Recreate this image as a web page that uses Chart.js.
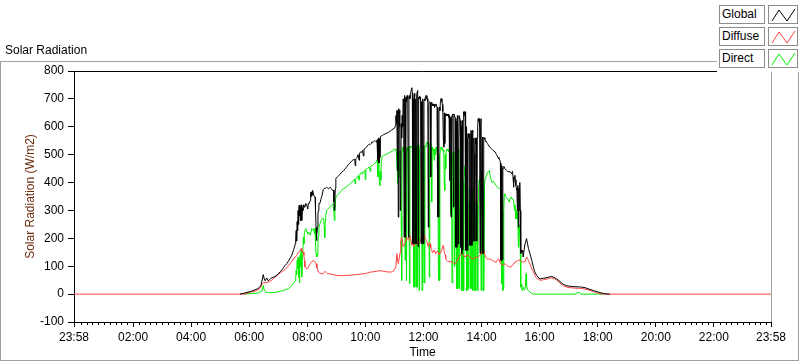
<!DOCTYPE html>
<html><head><meta charset="utf-8">
<script src="https://cdn.jsdelivr.net/npm/chart.js@4.4.0/dist/chart.umd.min.js"></script>
<style>
html,body{margin:0;padding:0;background:#fff;}
#wrap{position:relative;width:800px;height:361px;overflow:hidden;font-family:"Liberation Sans",Arial,sans-serif;}
#frame{position:absolute;left:0;top:61px;width:797px;height:298px;border:1px solid #a0a0a0;}
canvas{position:absolute;left:0;top:0;}
#ttl{position:absolute;left:5px;top:43px;font-size:12px;color:#000;white-space:nowrap;}
#legend{position:absolute;left:717px;top:3px;width:83px;height:69px;background:#fff;}
.row{position:absolute;left:2px;width:80px;height:20px;}
.lbl{position:absolute;left:0;top:0;width:46px;height:19px;border:1px solid #8c8c8c;box-sizing:border-box;font-size:12px;line-height:17px;padding-left:2px;color:#000;background:#fff;}
.ico{position:absolute;left:49px;top:0;width:30px;height:19px;border:1px solid #8c8c8c;box-sizing:border-box;background:#fff;}
.ico svg{position:absolute;left:0;top:0;}
</style></head>
<body><div id="wrap">
<div id="frame"></div>
<canvas id="c" width="800" height="361"></canvas>
<div id="ttl">Solar Radiation</div>
<div id="legend"></div>
</div>
<script>
// time in minutes after midnight (-2 = 23:58 of previous day), values in W/m2
const xTickMinutes = [-2,120,240,360,480,600,720,840,960,1080,1200,1320,1438];
const yTicks = [-100,0,100,200,300,400,500,600,700,800];
const seriesNames = ['Global','Diffuse','Direct'];
const seriesColors = ['#000000','#ff4040','#00ee00'];

const globalData = [[341,0],[351,4],[362,9],[370,14],[378,20],[384,30],[386,45],[389,70],[391,55],[393,48],[396,58],[399,48],[402,52],[405,57],[409,60],[413,63],[417,68],[420,73],[424,80],[428,88],[431,95],[434,103],[438,110],[441,118],[445,130],[448,140],[450,150],[452,160],[454,172],[455,180],[456,200],[457,228],[458,190],[459,260],[460,228],[461,300],[462,250],[463,318],[464,280],[465,312],[466,264],[467,320],[468,300],[469,264],[470,310],[471,300],[472,320],[473,312],[475,312],[477,325],[479,318],[481,305],[482,325],[484,325],[486,335],[487,365],[488,350],[489,367],[490,355],[491,372],[492,365],[494,350],[496,348],[497,300],[498,240],[499,192],[500,220],[501,240],[502,290],[503,300],[504,325],[506,325],[508,340],[510,350],[513,375],[515,379],[517,379],[520,383],[522,380],[524,378],[527,383],[530,378],[532,372],[534,372],[535,330],[536,300],[537,340],[538,380],[539,415],[542,420],[545,425],[548,430],[551,437],[555,443],[558,449],[561,455],[565,465],[568,470],[572,478],[575,482],[578,483],[579,460],[580,485],[583,490],[585,500],[587,480],[588,505],[590,510],[592,508],[594,515],[596,495],[597,520],[599,521],[601,525],[603,530],[606,535],[608,538],[610,536],[612,540],[613,545],[616,545],[619,550],[621,548],[623,545],[624,552],[625,555],[626,479],[627,560],[628,470],[629,555],[630,490],[631,565],[633,567],[635,569],[638,572],[641,575],[645,578],[648,580],[651,584],[654,588],[657,592],[660,596],
[661,598],[662,605],[663,640],[664,610],[665,658],[666,443],[667,660],[668,276],[669,665],[670,600],[671,660],[672,300],[673,320],[674,611],[675,560],[676,640],[677,600],[678,700],[679,690],[680,204],[681,712],[682,700],[683,204],[684,706],[685,690],[686,712],[687,700],[688,706],[689,204],[690,706],[691,712],[692,700],[693,720],[694,725],[695,735],[696,740],[697,720],[698,181],[699,700],[700,181],[701,710],[702,720],[703,181],[704,700],[705,181],[706,715],[707,725],[708,730],[709,170],[710,706],[711,700],[712,710],[713,706],[714,700],[715,181],[716,690],[717,181],[718,700],[719,694],[720,181],[721,690],[722,700],[723,694],[724,705],[725,712],[726,700],[727,712],[728,700],[729,690],[730,240],[731,680],[732,688],[733,690],[734,685],[735,420],[736,680],[737,688],[738,680],[739,676],[740,682],[741,676],[742,680],[743,670],[744,676],[745,680],[746,682],[747,682],[748,670],[749,276],[750,660],[751,276],[752,658],[753,670],[754,658],[755,690],[756,701],[757,690],[758,701],[759,680],[760,655],[761,560],[762,527],[763,650],[764,540],[765,646],[766,640],[767,646],[768,640],[769,646],[770,640],[771,646],[772,634],[773,640],[774,408],[775,634],[776,630],[777,276],[778,634],[779,640],[780,646],[781,640],[782,312],[783,646],[784,640],[785,640],[786,630],[787,168],[788,620],[789,168],[790,640],[791,630],[792,180],[793,551],[794,640],[795,640],[796,622],[797,168],[798,600],[799,145],[800,622],[801,160],[802,622],[803,654],[804,640],[805,654],[806,654],[807,157],[808,600],[809,157],[810,560],[811,157],[812,575],[813,575],[814,560],[815,175],[816,575],[817,175],[818,587],[819,580],[820,175],[821,587],[822,580],[823,190],[824,560],[825,500],[826,190],[827,560],[828,540],[829,560],[830,190],[831,560],[832,600],[833,629],[834,620],[835,629],[836,600],[837,146],[838,600],[839,629],[840,629],[841,146],[842,563],[843,146],[844,560],[845,563],[846,560],[847,555],[848,550],[849,547],[850,545],[852,540],[854,535],[857,527],[860,522],[864,515],[868,510],[871,500],[874,490],[876,485],[878,480],[879,470],[880,121],[881,460],[882,121],[883,125],[884,450],[885,450],[886,458],[888,450],[891,445],[894,440],[897,438],[899,440],[902,432],[904,440],[905,420],[906,383],[907,400],[908,420],[909,426],[910,410],[911,390],[912,380],[913,372],[914,300],[915,390],[916,240],[917,380],[918,300],[919,400],[920,300],[921,146],[922,157],[923,150],[924,157],[925,150],[926,133],[928,160],[930,181],[933,199],[935,180],[937,163],[940,145],[944,120],[947,97],[950,80],[954,67],[958,58],[961,55],[968,57],[975,59],[980,62],[985,63],[990,60],[995,55],[1002,45],[1009,35],[1016,30],[1023,28],[1030,27],[1040,26],[1047,25],[1054,23],[1062,18],[1071,13],[1080,8],[1088,4],[1095,1],[1105,0]];

const diffuseData = [[-2,0],[351,0],[356,3],[362,7],[370,10],[378,15],[384,25],[386,35],[389,40],[393,41],[399,43],[405,48],[409,54],[413,60],[418,67],[424,76],[429,82],[434,88],[438,95],[441,102],[445,110],[448,118],[452,127],[455,133],[458,139],[461,148],[463,152],[465,157],[467,163],[469,155],[470,150],[472,151],[473,140],[474,120],[475,97],[477,93],[479,91],[481,92],[483,100],[486,109],[489,115],[492,121],[494,118],[496,115],[498,109],[500,95],[503,79],[506,75],[509,73],[513,73],[515,78],[517,82],[519,78],[522,73],[527,73],[533,70],[541,67],[550,66],[561,67],[570,68],[580,70],[588,71],[596,73],[603,75],[610,79],[616,80],[623,82],[630,84],[637,82],[644,80],[651,79],[656,80],[661,91],[663,100],[665,145],[666,130],[668,109],[670,130],[672,150],[673,190],[675,204],[677,185],[678,170],[680,175],[682,182],[684,195],[685,204],[687,198],[689,195],[690,205],[692,210],[694,195],[696,175],[698,180],[700,170],[703,182],[705,195],[706,190],[708,180],[709,175],[711,185],[713,188],[715,200],[717,200],[718,210],[720,222],[722,205],[723,200],[725,195],[727,188],[729,175],[730,170],[732,185],[734,180],[735,165],[737,160],[738,150],[740,150],[742,158],[744,151],[745,145],[747,150],[749,155],[751,148],[752,142],[754,145],[756,152],[758,160],[760,172],[761,175],[763,150],[765,140],[766,128],[768,121],[770,118],[771,118],[773,116],[775,115],[777,118],[778,115],[780,113],[782,112],[784,110],[785,109],[787,112],[789,115],[790,122],[792,127],[793,132],[795,135],[797,142],[799,151],[800,145],[802,140],[804,136],[806,133],[808,138],[809,136],[811,140],[813,139],[815,135],[816,133],[818,130],[820,127],[822,126],[823,127],[825,128],[826,130],[828,134],[830,133],[832,131],[833,133],[835,136],[837,140],[839,145],[840,150],[842,155],[844,157],[845,150],[847,140],[849,132],[851,127],[853,125],[854,125],[856,126],[857,127],[859,124],[861,122],[863,121],[864,120],[866,117],[868,115],[870,116],[871,118],[873,123],[875,127],[877,120],[878,115],[880,108],[882,103],[884,104],[885,106],[887,108],[888,109],[890,106],[892,103],[894,101],[895,100],[897,98],[899,97],[901,98],[902,100],[904,104],[906,108],[908,112],[909,115],[911,117],[913,118],[915,120],[916,121],[918,122],[919,121],[921,119],[923,118],[925,116],[926,115],[928,116],[930,118],[932,128],[933,133],[935,128],[937,121],[940,108],[942,98],[944,89],[947,80],[950,68],[952,61],[954,57],[958,52],[961,50],[965,50],[968,52],[972,53],[975,54],[980,57],[985,58],[990,55],[995,50],[1002,40],[1009,30],[1016,25],[1023,23],[1030,22],[1037,21],[1040,21],[1047,20],[1054,18],[1062,14],[1071,9],[1080,4],[1088,1],[1095,0],[1105,0],[1438,0]];

const directData = [[351,0],[362,2],[378,4],[386,10],[389,31],[391,15],[394,7],[400,5],[405,6],[413,6],[420,8],[424,10],[430,13],[436,16],[441,20],[445,25],[448,31],[451,38],[453,42],[455,48],[456,60],[457,85],[458,70],[459,120],[460,90],[461,133],[462,60],[463,125],[464,40],[465,140],[466,100],[467,157],[468,150],[469,61],[470,140],[471,160],[472,204],[473,180],[474,222],[475,228],[477,235],[479,225],[481,215],[483,222],[484,215],[486,211],[488,225],[489,235],[491,230],[493,235],[495,216],[496,235],[497,181],[498,145],[499,134],[500,133],[501,140],[502,181],[503,210],[504,240],[506,252],[509,265],[512,273],[514,270],[515,240],[516,202],[517,260],[518,280],[520,300],[523,306],[527,312],[530,318],[533,324],[535,290],[536,264],[537,300],[539,348],[542,355],[545,360],[548,365],[551,372],[555,378],[558,382],[561,385],[565,390],[568,395],[572,402],[575,408],[578,412],[579,395],[580,414],[583,418],[585,425],[587,408],[589,432],[592,437],[594,430],[596,440],[598,443],[599,445],[600,410],[601,447],[602,449],[605,452],[608,455],[610,440],[611,458],[613,461],[615,462],[617,465],[620,470],[622,473],[623,479],[625,475],[626,420],[627,480],[628,470],[629,400],[630,390],[631,440],[632,408],[633,480],[634,490],[637,497],[641,500],[646,503],[651,509],[656,512],[660,521],
[661,521],[662,520],[663,515],[664,510],[667,396],[668,509],[669,515],[670,420],[671,509],[672,515],[673,505],[674,276],[675,49],[676,510],[677,527],[678,515],[679,520],[680,527],[681,515],[682,121],[683,527],[684,520],[685,49],[686,515],[687,527],[688,520],[689,527],[690,530],[691,38],[692,527],[693,530],[694,525],[695,530],[696,527],[697,530],[698,533],[699,530],[700,25],[701,527],[702,25],[703,530],[704,533],[705,25],[706,530],[707,25],[708,533],[709,536],[710,539],[711,13],[712,527],[713,530],[714,533],[715,527],[716,530],[717,13],[718,527],[719,40],[720,530],[721,533],[722,40],[723,527],[724,530],[725,527],[726,540],[727,545],[728,540],[729,545],[730,533],[731,540],[732,60],[733,533],[734,540],[735,530],[736,527],[737,330],[738,515],[739,527],[740,520],[741,515],[742,480],[743,520],[744,515],[745,500],[746,527],[747,520],[748,515],[749,520],[750,510],[751,49],[752,500],[753,49],[754,500],[755,515],[756,527],[757,520],[758,527],[759,515],[760,520],[761,515],[762,510],[763,400],[764,372],[765,500],[766,450],[767,515],[768,520],[769,515],[770,520],[771,515],[772,510],[773,520],[774,515],[775,510],[776,288],[777,500],[778,490],[779,40],[780,500],[781,505],[782,510],[783,500],[784,100],[785,500],[786,510],[787,515],[788,510],[789,20],[790,480],[791,20],[792,520],[793,500],[794,20],[795,300],[796,500],[797,440],[798,430],[799,13],[800,400],[801,13],[802,400],[803,13],[804,420],[805,460],[806,430],[807,450],[808,440],[809,13],[810,380],[811,13],[812,300],[813,20],[814,330],[815,330],[816,300],[817,20],[818,330],[819,20],[820,380],[821,360],[822,13],[823,380],[824,360],[825,13],[826,300],[827,250],[828,13],[829,330],[830,300],[831,320],[832,13],[833,330],[834,380],[835,408],[836,400],[837,420],[838,380],[839,13],[840,400],[841,431],[842,432],[843,13],[844,380],[845,13],[846,400],[847,410],[848,415],[849,420],[850,425],[851,430],[852,435],[854,440],[856,443],[858,420],[860,410],[862,400],[864,405],[866,400],[868,395],[870,390],[873,383],[876,380],[878,375],[880,372],[881,340],[882,38],[883,300],[884,13],[885,20],[886,300],[887,354],[888,360],[890,350],[892,345],[894,340],[896,335],[897,330],[899,345],[901,348],[903,340],[904,342],[906,335],[908,300],[909,320],[910,290],[911,270],[912,300],[913,270],[914,290],[915,270],[916,168],[917,251],[918,240],[919,216],[920,150],[921,25],[922,36],[923,25],[924,13],[925,18],[926,25],[928,15],[930,18],[932,73],[933,30],[935,15],[937,13],[940,8],[944,2],[947,0],[1000,0],[1035,0],[1037,5],[1040,6],[1043,5],[1045,0],[1092,0]];

function fmtTime(m){
  let t = ((Math.round(m) % 1440) + 1440) % 1440;
  const h = Math.floor(t/60), mm = t%60;
  return String(h).padStart(2,'0') + ':' + String(mm).padStart(2,'0');
}
const toXY = arr => arr.map(p => ({x:p[0], y:p[1]}));

// legend (HTML)
const leg = document.getElementById('legend');
seriesNames.forEach((n,i)=>{
  const r = document.createElement('div');
  r.className='row'; r.style.top = (2 + i*22) + 'px';
  r.innerHTML = '<div class="lbl">'+n+'</div><div class="ico"><svg width="30" height="19"><polyline points="3,15 10,4 18,15 26,3" fill="none" stroke="'+seriesColors[i]+'" stroke-width="1"/></svg></div>';
  leg.appendChild(r);
});

const frameLines = {
  id:'frameLines',
  afterDatasetsDraw(chart){
    const {ctx, chartArea:a} = chart;
    ctx.save();
    ctx.lineWidth = 1;
    ctx.strokeStyle = '#000';
    ctx.beginPath(); ctx.moveTo(a.left, a.top+0.5); ctx.lineTo(a.right, a.top+0.5); ctx.stroke();
    ctx.strokeStyle = '#a0a0a0';
    ctx.beginPath(); ctx.moveTo(a.right+0.5, a.top); ctx.lineTo(a.right+0.5, a.bottom); ctx.stroke();
    const xs = chart.scales.x;
    ctx.strokeStyle = '#000';
    ctx.beginPath();
    for (let m = 12; m < 1438; m += 12) {
      if (m % 120 === 0) continue;
      const px = Math.round(xs.getPixelForValue(m)) + 0.5;
      ctx.moveTo(px, a.bottom); ctx.lineTo(px, a.bottom + 3);
    }
    ctx.stroke();
    ctx.restore();
  }
};

Chart.defaults.font.family = '"Liberation Sans", Arial, sans-serif';
Chart.defaults.font.size = 12;
Chart.defaults.color = '#000';

new Chart(document.getElementById('c'), {
  type:'line',
  data:{datasets:[
    {label:seriesNames[0], data:toXY(globalData), borderColor:seriesColors[0], order:0},
    {label:seriesNames[1], data:toXY(diffuseData), borderColor:seriesColors[1], order:1},
    {label:seriesNames[2], data:toXY(directData), borderColor:seriesColors[2], order:2}
  ]},
  options:{
    responsive:false, animation:false, devicePixelRatio:1,
    elements:{line:{borderWidth:1, tension:0}, point:{radius:0}},
    layout:{padding:{left:0,right:29,top:71,bottom:0}},
    plugins:{legend:{display:false}, tooltip:{enabled:false}},
    scales:{
      x:{type:'linear', min:-2, max:1438,
        afterBuildTicks(s){ s.ticks = xTickMinutes.map(v=>({value:v})); },
        afterFit(s){ s.height = 39; },
        ticks:{autoSkip:false, maxRotation:0, padding:3, color:'#000', callback:v=>fmtTime(v)},
        grid:{drawOnChartArea:false, drawTicks:true, tickLength:5, tickColor:'#000'},
        border:{display:true, color:'#000', width:1},
        title:{display:true, text:'Time', color:'#000', font:{size:12}, padding:{top:0,bottom:1}}
      },
      y:{type:'linear', min:-100, max:800,
        afterBuildTicks(s){ s.ticks = yTicks.map(v=>({value:v})); },
        afterFit(s){ s.width = 74; },
        ticks:{padding:4, color:'#000'},
        grid:{drawOnChartArea:false, drawTicks:true, tickLength:6, tickColor:'#000'},
        border:{display:true, color:'#000', width:1},
        title:{display:true, text:'Solar Radiation (W/m2)', color:'#6b2a0c', font:{size:12}, padding:{top:23,bottom:0}}
      }
    }
  },
  plugins:[frameLines]
});
</script>
</body></html>
